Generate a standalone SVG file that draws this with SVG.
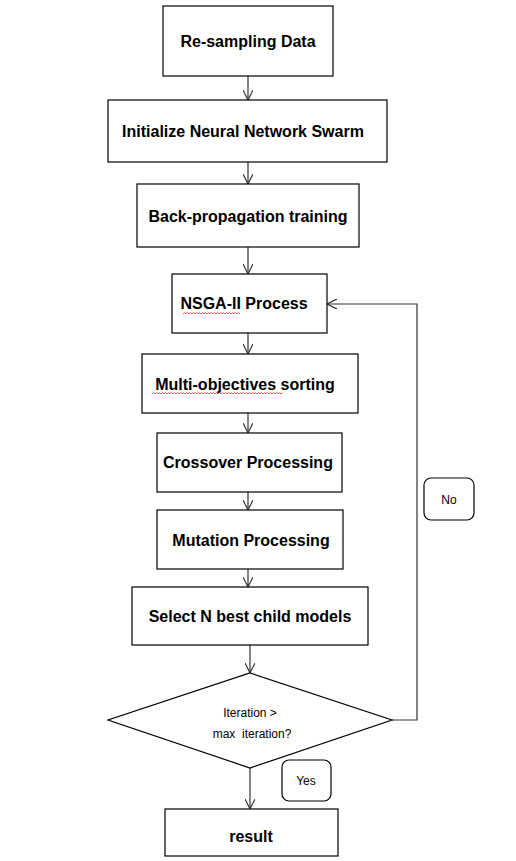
<svg xmlns="http://www.w3.org/2000/svg" width="516" height="861" viewBox="0 0 516 861">
<style>
.box{fill:#fff;stroke:#000;stroke-width:1.2}
.lbl{fill:#fff;stroke:#000;stroke-width:1.2}
.t{font-family:"Liberation Sans",Arial,sans-serif;font-weight:bold;font-size:16px;fill:#000;text-anchor:middle}
.s{font-family:"Liberation Sans",Arial,sans-serif;font-size:12px;fill:#000;text-anchor:middle}
.c{fill:none;stroke:#333;stroke-width:1.2}
.sq{fill:none;stroke:#e03030;stroke-width:0.8}
</style>
<defs>
<marker id="ah" viewBox="0 0 10 10" refX="10" refY="5" markerWidth="10" markerHeight="10" markerUnits="userSpaceOnUse" orient="auto">
<path d="M0,0 L10,5 L0,10" fill="none" stroke="#333" stroke-width="1.2"/>
</marker>
</defs>
<rect width="516" height="861" fill="#fff"/>
<g id="connectors">
<line class="c" x1="248" y1="76" x2="248" y2="100" marker-end="url(#ah)"/>
<line class="c" x1="248" y1="162" x2="248" y2="184" marker-end="url(#ah)"/>
<line class="c" x1="248" y1="247" x2="248" y2="274" marker-end="url(#ah)"/>
<line class="c" x1="248" y1="333" x2="248" y2="354" marker-end="url(#ah)"/>
<line class="c" x1="248" y1="413" x2="248" y2="433" marker-end="url(#ah)"/>
<line class="c" x1="248" y1="492" x2="248" y2="510" marker-end="url(#ah)"/>
<line class="c" x1="248" y1="569" x2="248" y2="587" marker-end="url(#ah)"/>
<line class="c" x1="250" y1="645" x2="250" y2="673" marker-end="url(#ah)"/>
<line class="c" x1="250" y1="768" x2="250" y2="809" marker-end="url(#ah)"/>
<polyline class="c" points="392,720 417,720 417,304 327,304" marker-end="url(#ah)"/>
</g>
<g id="n1"><rect class="box" x="163" y="6" width="170" height="70"/><text class="t" x="248" y="47">Re-sampling Data</text></g>
<g id="n2"><rect class="box" x="108" y="100" width="279" height="62"/><text class="t" x="243" y="137">Initialize Neural Network Swarm</text></g>
<g id="n3"><rect class="box" x="137" y="184" width="222" height="63"/><text class="t" x="248" y="222">Back-propagation training</text></g>
<g id="n4"><rect class="box" x="172" y="274" width="155" height="59"/><text class="t" x="244" y="309">NSGA-II Process</text>
<path class="sq" d="M183,314 l1.5,-1.5 l1.5,1.5 l1.5,-1.5 l1.5,1.5 l1.5,-1.5 l1.5,1.5 l1.5,-1.5 l1.5,1.5 l1.5,-1.5 l1.5,1.5 l1.5,-1.5 l1.5,1.5 l1.5,-1.5 l1.5,1.5 l1.5,-1.5 l1.5,1.5 l1.5,-1.5 l1.5,1.5 l1.5,-1.5 l1.5,1.5 l1.5,-1.5 l1.5,1.5 l1.5,-1.5 l1.5,1.5 l1.5,-1.5 l1.5,1.5 l1.5,-1.5 l1.5,1.5 l1.5,-1.5 l1.5,1.5 l1.5,-1.5 l1.5,1.5 l1.5,-1.5 l1.5,1.5 l1.5,-1.5 l1.5,1.5 l1.5,-1.5 l1.5,1.5"/></g>
<g id="n5"><rect class="box" x="142" y="354" width="216" height="59"/><text class="t" x="245" y="390">Multi-objectives sorting</text>
<path class="sq" d="M152,394 l1.5,-1.5 l1.5,1.5 l1.5,-1.5 l1.5,1.5 l1.5,-1.5 l1.5,1.5 l1.5,-1.5 l1.5,1.5 l1.5,-1.5 l1.5,1.5 l1.5,-1.5 l1.5,1.5 l1.5,-1.5 l1.5,1.5 l1.5,-1.5 l1.5,1.5 l1.5,-1.5 l1.5,1.5 l1.5,-1.5 l1.5,1.5 l1.5,-1.5 l1.5,1.5 l1.5,-1.5 l1.5,1.5 l1.5,-1.5 l1.5,1.5 l1.5,-1.5 l1.5,1.5 l1.5,-1.5 l1.5,1.5 l1.5,-1.5 l1.5,1.5 l1.5,-1.5 l1.5,1.5 l1.5,-1.5 l1.5,1.5 l1.5,-1.5 l1.5,1.5 l1.5,-1.5 l1.5,1.5 l1.5,-1.5 l1.5,1.5 l1.5,-1.5 l1.5,1.5 l1.5,-1.5 l1.5,1.5 l1.5,-1.5 l1.5,1.5 l1.5,-1.5 l1.5,1.5 l1.5,-1.5 l1.5,1.5 l1.5,-1.5 l1.5,1.5 l1.5,-1.5 l1.5,1.5 l1.5,-1.5 l1.5,1.5 l1.5,-1.5 l1.5,1.5 l1.5,-1.5 l1.5,1.5 l1.5,-1.5 l1.5,1.5 l1.5,-1.5 l1.5,1.5 l1.5,-1.5 l1.5,1.5 l1.5,-1.5 l1.5,1.5 l1.5,-1.5 l1.5,1.5 l1.5,-1.5 l1.5,1.5 l1.5,-1.5 l1.5,1.5 l1.5,-1.5 l1.5,1.5 l1.5,-1.5 l1.5,1.5 l1.5,-1.5 l1.5,1.5 l1.5,-1.5 l1.5,1.5 l1.5,-1.5 l1.5,1.5 l1.5,-1.5"/></g>
<g id="n6"><rect class="box" x="157" y="433" width="185" height="59"/><text class="t" x="248" y="468">Crossover Processing</text></g>
<g id="n7"><rect class="box" x="157" y="510" width="186" height="59"/><text class="t" x="251" y="546">Mutation Processing</text></g>
<g id="n8"><rect class="box" x="132" y="587" width="236" height="58"/><text class="t" x="250" y="622">Select N best child models</text></g>
<g id="n9"><polygon class="box" points="250,673 392,720 250,768 108,720"/><text class="s" x="250" y="717">Iteration &gt;</text><text class="s" x="252" y="738" xml:space="preserve">max  iteration?</text></g>
<g id="n10"><rect class="box" x="165" y="809" width="173" height="47"/><text class="t" x="251" y="842">result</text></g>
<g id="lno"><rect class="lbl" x="424" y="478" width="50" height="42" rx="7"/><text class="s" x="449" y="504">No</text></g>
<g id="lyes"><rect class="lbl" x="282" y="760" width="49" height="41" rx="7"/><text class="s" x="306" y="785">Yes</text></g>
</svg>
